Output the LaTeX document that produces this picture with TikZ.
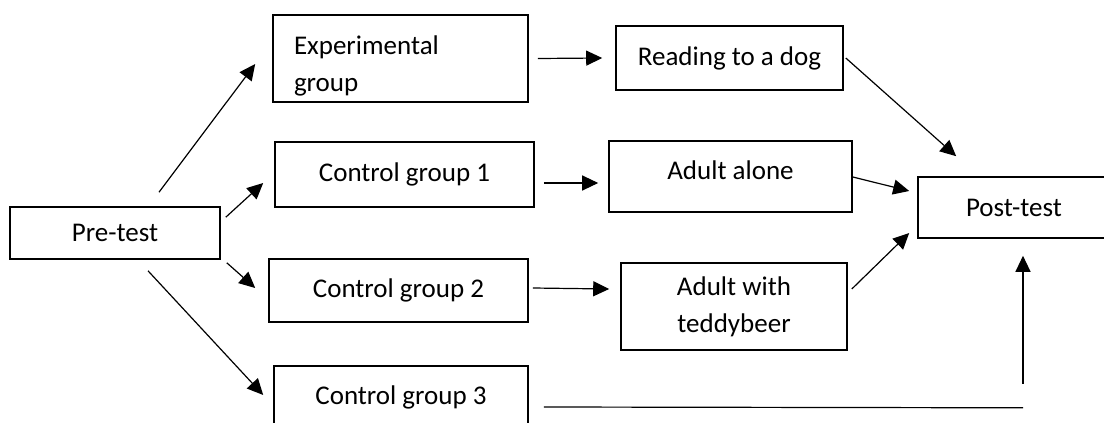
\documentclass[tikz,border=0pt]{standalone}
\usepackage{fontspec}
\setmainfont{Carlito}
\usetikzlibrary{arrows.meta,calc}
\tikzstyle{block}=[draw, line width=1.6pt, rectangle, inner sep=0pt, align=center]
\tikzstyle{link}=[line width=1.2pt, -{Triangle[length=16pt,width=15pt]}]

\begin{document}
\begin{tikzpicture}[x=1pt, y=-1pt, font=\fontsize{27}{37}\selectfont]
\clip (0,0) rectangle (1104,423);
% Groups
    \node[block, minimum width=210pt, minimum height=52pt] (pre) at (115,233) {Pre-test};
    \node[block, minimum height=87pt, text width=213pt, inner xsep=21pt, align=left] (exp) at (400.5,58.5) {\rule{0pt}{33pt}Experimental\\group};
    \node[block, minimum width=259pt, minimum height=65pt] (cg1) at (404.5,174.5) {Control group 1};
    \node[block, minimum width=259pt, minimum height=63pt] (cg2) at (398.5,290.5) {Control group 2};
    \node[block, minimum width=254pt, minimum height=63pt] (cg3) at (401,397.5) {Control group 3};
% Conditions
    \node[block, minimum width=227pt, minimum height=64pt] (read) at (729.5,58) {Reading to a dog};
    \node[block, minimum width=243pt, minimum height=71pt] (alone) at (730.5,176.5) {Adult alone\rule[-13pt]{0pt}{0pt}};
    \node[block, minimum width=226pt, minimum height=87pt] (teddy) at (734,306.5) {Adult with\\teddybeer};
    \node[block, minimum width=192pt, minimum height=61pt] (post) at (1014,207.5) {Post-test};
% From pre-test
    \draw[link] ($(pre.north)+(44,-14)$) -- ($(exp.west)+(-17,5.5)$);
    \draw[link] ($(pre.north east)+(5,11)$) -- ($(cg1.west)+(-11,8.5)$);
    \draw[link] ($(pre.south east)+(6,3)$) -- ($(cg2.west)+(-13,-2.5)$);
    \draw[link] ($(pre.south)+(33,11)$) -- ($(cg3.west)+(-10,-2.5)$);
% Into conditions
    \draw[link] ($(exp.east)+(9,0)$) -- ($(read.west)+(-13,0)$);
    \draw[link] ($(cg1.east)+(9,8.5)$) -- ($(alone.west)+(-10,6.5)$);
    \draw[link] ($(cg2.east)+(4,-2.5)$) -- ($(teddy.west)+(-11,-17.5)$);
% To post-test
    \draw[link] ($(read.east)+(2,0)$) -- ($(post.north west)+(39,-20)$);
    \draw[link] ($(alone.east)+(0,0.5)$) -- ($(post.west)+(-8,-16.5)$);
    \draw[link] ($(teddy.east)+(4,-17.5)$) -- ($(post.west)+(-8,25.5)$);
    \coordinate (corner) at ($(post.south)+(9,169)$);
    \draw[line width=1.2pt] ($(cg3.east)+(15,9.5)$) -- (corner);
    \draw[link] ($(corner)+(0,-24)$) -- ($(post.south)+(9,17)$);
\end{tikzpicture}
\end{document}
